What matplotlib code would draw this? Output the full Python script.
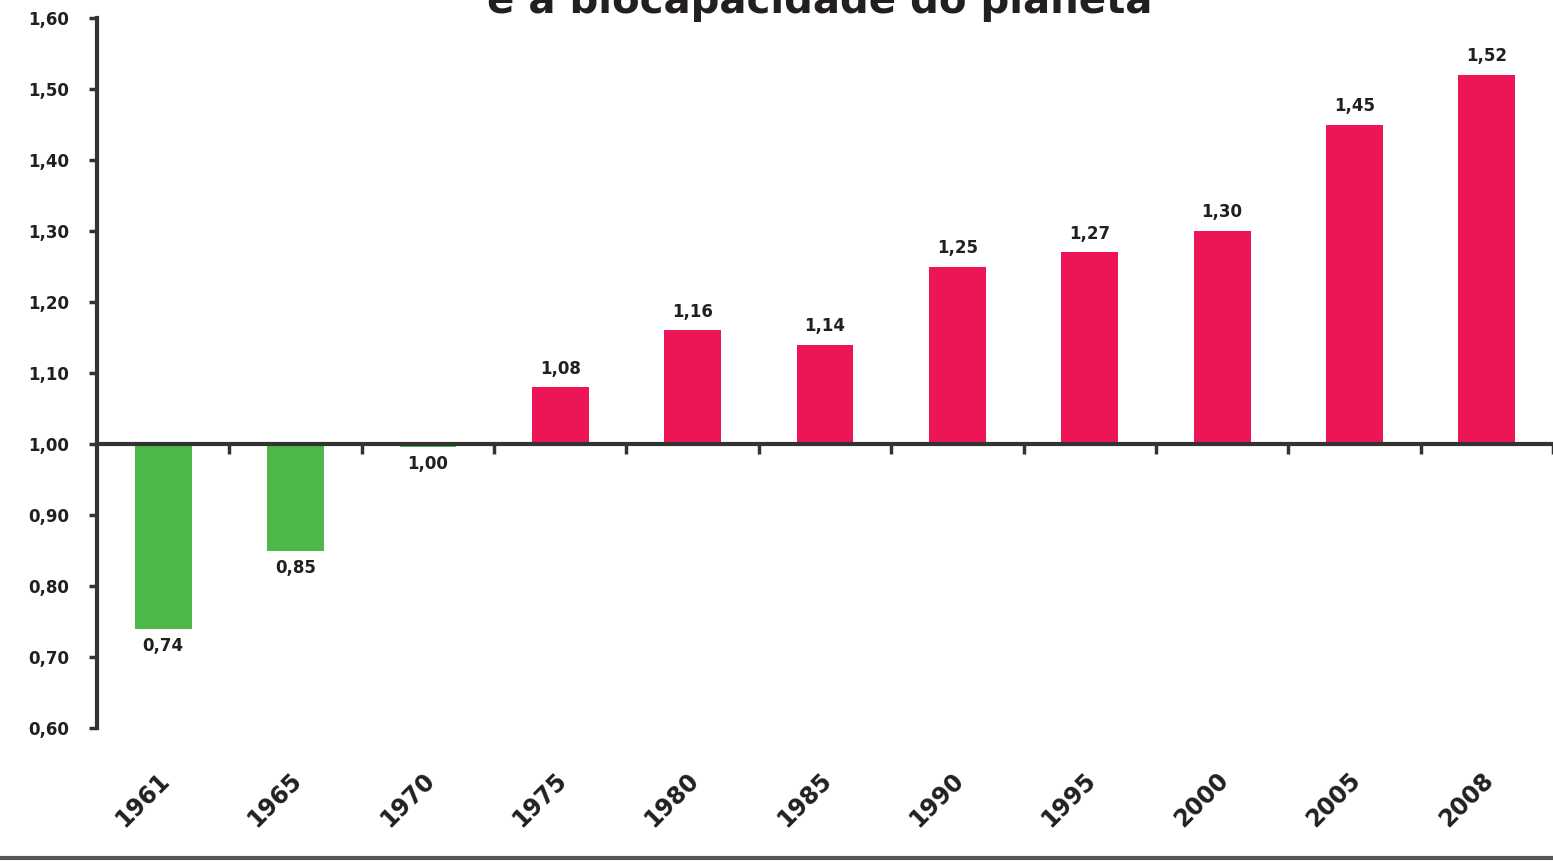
import matplotlib
matplotlib.use("Agg")
import matplotlib.pyplot as plt
from matplotlib.lines import Line2D
import matplotlib.transforms as mtransforms

# Ecological footprint relative to planetary biocapacity (1.00 = balance)
years = ["1961", "1965", "1970", "1975", "1980", "1985", "1990", "1995", "2000", "2005", "2008"]
ratio = [0.74, 0.85, 0.996, 1.08, 1.16, 1.14, 1.25, 1.27, 1.30, 1.45, 1.52]
y_ticks = [0.60, 0.70, 0.80, 0.90, 1.00, 1.10, 1.20, 1.30, 1.40, 1.50, 1.60]
title = "e a biocapacidade do planeta"

baseline = 1.0
green = "#4DB848"
pink = "#EE1556"
ink = "#231F20"

fig = plt.figure(figsize=(15.53, 8.61), dpi=100)
ax = fig.add_axes([0.0625, 0.1545, 0.9375, 0.8245])

x = list(range(len(years)))
heights = [v - baseline for v in ratio]
colors = [green if v < baseline else pink for v in ratio]
ax.bar(x, heights, bottom=baseline, width=0.43, color=colors, edgecolor="none", zorder=2)

for xi, v in zip(x, ratio):
    label = f"{v:.2f}".replace(".", ",")
    if v >= baseline:
        ax.annotate(label, (xi, v), xytext=(0, 7), textcoords="offset points",
                    ha="center", va="bottom", fontsize=12, fontweight="bold", color=ink)
    else:
        ax.annotate(label, (xi, v), xytext=(0, -6), textcoords="offset points",
                    ha="center", va="top", fontsize=12, fontweight="bold", color=ink)

ax.set_xlim(-0.5, len(years) - 0.5)
ax.set_ylim(0.60, 1.60)
ax.set_yticks(y_ticks)
ax.set_yticklabels([f"{t:.2f}".replace(".", ",") for t in y_ticks],
                   fontsize=12, fontweight="bold", color=ink)

# category boundaries carry the ticks on the 1,00 line
ax.set_xticks([i + 0.5 for i in x])
ax.set_xticklabels([])
ax.tick_params(axis="x", direction="out", length=7, width=2.5, color="#333333")
ax.tick_params(axis="y", direction="out", length=6, width=2.5, color="#333333", pad=14)

for side in ("top", "right"):
    ax.spines[side].set_visible(False)
ax.spines["left"].set_linewidth(3)
ax.spines["left"].set_color("#333333")
ax.spines["bottom"].set_position(("data", baseline))
ax.spines["bottom"].set_linewidth(3)
ax.spines["bottom"].set_color("#333333")

# year labels below the plotting area
trans = mtransforms.blended_transform_factory(ax.transData, ax.transAxes)
for xi, yr in zip(x, years):
    ax.text(xi + 0.02, -0.068, yr, transform=trans, rotation=45, rotation_mode="anchor",
            ha="right", va="center", fontsize=17, fontweight="bold", color=ink)

# title sits above the frame, its upper part running off the canvas
fig.text(0.528, 0.985, title, ha="center", va="baseline", fontsize=29,
         fontweight="bold", color=ink)

# rule under the chart
fig.add_artist(Line2D([0, 1], [0.004, 0.004], transform=fig.transFigure,
                      color="#555555", linewidth=3))

fig.savefig("out.png", dpi=100)
